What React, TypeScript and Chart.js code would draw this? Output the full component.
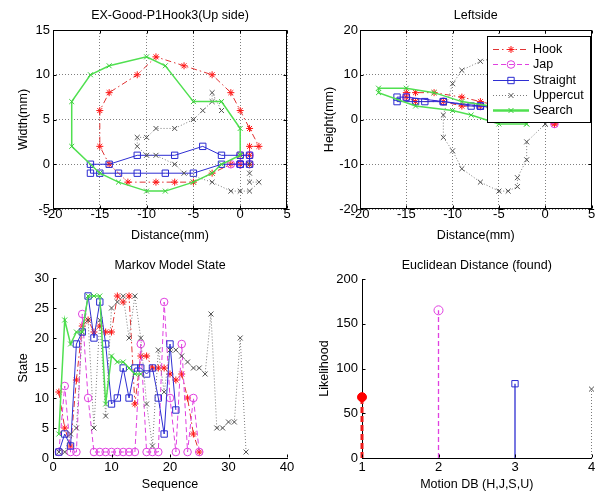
import React, { useEffect, useRef } from "react";
import { Chart, registerables } from "chart.js";
Chart.register(...registerables);

const FONT_FAMILY = "'Liberation Sans', Arial, Helvetica, sans-serif";
const FS = 12.5;
const TFS = 13;

// ---------- Data: Up side (Distance vs Width) ----------
const hookUpX = [1, 0, -1, -3, -5, -7, -9, -12, -14, -15, -15, -14, -11, -9, -6, -3, -1, 0, 1, 2, 1, 1, 0];
const hookUpY = [0, 0, 0, -1, -2, -2, -2, -2, 0, 2, 6, 8, 10, 12, 11, 10, 8, 6, 4, 2, 2, 1, 1];
const japUpX = [0, -1, 0, 0, 1, 1, 0];
const japUpY = [0, 0, 0, 1, 1, 0, 0];
const straightUpX = [0, -2, -5, -8, -11, -13, -15, -16, -16, -14, -11, -7, -4, -2, 0, 1, 1, 0];
const straightUpY = [0, 0, -1, -1, -1, -1, -1, -1, 0, 0, 1, 1, 2, 1, 1, 1, 0, 0];
const upperUpX = [1, 1, 1, 2, 1, 0, -1, -3, -6, -7, -9, -10, -11, -11, -10, -9, -7, -5, -4, -3, -3, -2];
const upperUpY = [0, -1, -2, -2, -3, -3, -3, -2, -1, 0, 1, 1, 2, 3, 3, 4, 4, 5, 6, 7, 8, 6];
const searchUpX = [0, 0, -2, -5, -8, -10, -14, -16, -18, -18, -15, -13, -10, -8, -5, -3, -2, 0];
const searchUpY = [1, 4, 7, 7, 11, 12, 11, 10, 7, 2, -1, -2, -3, -3, -2, -1, 0, 1];

// ---------- Data: Left side (Distance vs Height) ----------
const hookLeftX = [1, -1, -3, -5, -7, -9, -12, -14, -15, -15, -14, -11, -9, -7, -4, -1, 1];
const hookLeftY = [-1, 1, 2, 3, 4, 5, 6, 6, 6, 5, 4, 4, 3, 3, 2, 0, -1];
const japLeftX = [1, -3, -7, -11, -15];
const japLeftY = [-1, 2, 3, 4, 5];
const straightLeftX = [0, -2, -4, -7, -8, -11, -13, -14, -16, -16, -15, -11, -7, -3, 0];
const straightLeftY = [1, 2, 3, 3, 3, 4, 4, 4, 4, 5, 5, 4, 3, 2, 1];
const upperLeftX = [0, -2, -2, -3, -3, -4, -5, -7, -9, -10, -11, -11, -10, -9, -7, -5, -3, -1, 0, 0];
const upperLeftY = [-1, -5, -9, -13, -15, -16, -16, -14, -11, -7, -4, 1, 8, 11, 13, 14, 12, 7, 3, -1];
const searchLeftX = [-2, -5, -8, -10, -14, -18, -18, -15, -12, -9, -6, -3, -2];
const searchLeftY = [-1, -1, 1, 2, 3, 6, 7, 7, 6, 4, 3, 1, -1];

// ---------- Data: Markov model state sequences ----------
const hookSeq = [11, 5, 2, 13, 22, 23, 21, 22, 21, 21, 27, 26, 27, 9, 17, 17, 15, 15, 15, 14, 13, 14, 10, 4, 1];
const japSeq = [1, 12, 1, 1, 24, 10, 1, 1, 1, 1, 1, 1, 1, 1, 19, 1, 1, 1, 26, 10, 1, 19, 1, 10, 1];
const straightSeq = [1, 4, 2, 19, 21, 27, 20, 26, 19, 9, 10, 15, 10, 15, 15, 14, 15, 10, 4, 19, 8];
const upperSeq = [1, 1, 4, 5, 21, 23, 5, 23, 7, 25, 26, 27, 20, 27, 20, 9, 2, 18, 11, 18, 18, 17, 16, 15, 15, 14, 24, 5, 5, 6, 6, 20, 1];
const searchSeq = [4, 23, 19, 21, 21, 27, 27, 27, 9, 17, 16, 16, 15, 14, 14];

// ---------- Data: Euclidean distance stems ----------
const motionDB = [1, 2, 3, 4];
const likelihood = [68, 165, 83, 77];

const legendLabels = ["Hook", "Jap", "Straight", "Uppercut", "Search"];

type Sty = { line: string; mark: string; dash: number[]; marker: string; r: number; w: number };
const S: Record<string, Sty> = {
  hook: { line: "#e03434", mark: "#ff1515", dash: [6, 3, 1.5, 3], marker: "star", r: 3.5, w: 1 },
  jap: { line: "#e040e0", mark: "#e040e0", dash: [5, 3], marker: "circle", r: 3.8, w: 1 },
  straight: { line: "#2e2ed2", mark: "#2a2ad0", dash: [], marker: "rect", r: 4.5, w: 1 },
  upper: { line: "#7a7a7a", mark: "#505050", dash: [1, 2], marker: "crossRot", r: 3.5, w: 1 },
  search: { line: "#50e050", mark: "#3ccf3c", dash: [], marker: "crossRot", r: 3.5, w: 1.5 },
};
const ORDER = ["hook", "jap", "straight", "upper", "search"];

function series(xs: number[], ys: number[], st: Sty) {
  return {
    data: xs.map((x, i) => ({ x, y: ys[i] })),
    showLine: true,
    borderColor: st.line,
    borderWidth: st.w,
    borderDash: st.dash,
    pointStyle: st.marker,
    pointRadius: st.r,
    pointHoverRadius: st.r,
    pointBorderColor: st.mark,
    pointBackgroundColor: "rgba(0,0,0,0)",
    pointBorderWidth: 1,
    tension: 0,
    fill: false,
    clip: false,
  };
}

function seqSeries(vals: number[], st: Sty) {
  return series(vals.map((_, i) => i + 1), vals, st);
}

function stem(x: number, y: number, st: Sty, w: number, r: number, fill: string) {
  return {
    data: [{ x, y: 0 }, { x, y }],
    showLine: true,
    borderColor: st.line,
    borderWidth: w,
    borderDash: st.dash,
    pointStyle: st.marker,
    pointRadius: [0, r],
    pointHoverRadius: [0, r],
    pointBorderColor: st.mark,
    pointBackgroundColor: fill,
    pointBorderWidth: 1,
    tension: 0,
    fill: false,
    clip: false,
  };
}

function drawMarker(ctx: CanvasRenderingContext2D, style: string, x: number, y: number, r: number, color: string) {
  ctx.save();
  ctx.setLineDash([]);
  ctx.strokeStyle = color;
  ctx.lineWidth = 1;
  ctx.beginPath();
  const d = r * Math.SQRT1_2;
  if (style === "circle") {
    ctx.arc(x, y, r, 0, Math.PI * 2);
  } else if (style === "rect") {
    ctx.rect(x - d, y - d, 2 * d, 2 * d);
  } else {
    ctx.moveTo(x - d, y - d); ctx.lineTo(x + d, y + d);
    ctx.moveTo(x - d, y + d); ctx.lineTo(x + d, y - d);
    if (style === "star") {
      ctx.moveTo(x - r, y); ctx.lineTo(x + r, y);
      ctx.moveTo(x, y - r); ctx.lineTo(x, y + r);
    }
  }
  ctx.stroke();
  ctx.restore();
}

type FrameOpts = { title: string; titleY: number; box: boolean; legend?: { left: number; top: number; right: number; bottom: number } };

function makeFrame(o: FrameOpts) {
  return {
    id: "mframe",
    afterDraw(chart: any) {
      const { ctx, chartArea: a } = chart;
      const xs = chart.scales.x;
      const ys = chart.scales.y;
      ctx.save();
      ctx.fillStyle = "#000";
      ctx.font = `${FS}px ${FONT_FAMILY}`;
      ctx.textAlign = "center";
      ctx.textBaseline = "middle";
      ctx.fillText(o.title, (a.left + a.right) / 2, o.titleY);

      ctx.strokeStyle = "#000";
      ctx.lineWidth = 1;
      ctx.setLineDash([]);
      const L = Math.round(a.left) + 0.5;
      const R = Math.round(a.right) - 0.5;
      const T = Math.round(a.top) + 0.5;
      const B = Math.round(a.bottom) - 0.5;
      if (o.box) ctx.strokeRect(L, T, R - L, B - T);
      const tl = 3;
      ctx.beginPath();
      xs.ticks.forEach((t: any) => {
        const p = Math.round(xs.getPixelForValue(t.value)) + 0.5;
        ctx.moveTo(p, B); ctx.lineTo(p, B - tl);
        if (o.box) { ctx.moveTo(p, T); ctx.lineTo(p, T + tl); }
      });
      ys.ticks.forEach((t: any) => {
        const p = Math.round(ys.getPixelForValue(t.value)) + 0.5;
        ctx.moveTo(L, p); ctx.lineTo(L + tl, p);
        if (o.box) { ctx.moveTo(R, p); ctx.lineTo(R - tl, p); }
      });
      ctx.stroke();

      if (o.legend) {
        const lg = o.legend;
        ctx.fillStyle = "#fff";
        ctx.fillRect(lg.left, lg.top, lg.right - lg.left, lg.bottom - lg.top);
        ctx.strokeStyle = "#000";
        ctx.strokeRect(lg.left + 0.5, lg.top + 0.5, lg.right - lg.left - 1, lg.bottom - lg.top - 1);
        const rowH = (lg.bottom - lg.top - 10) / ORDER.length;
        ctx.font = `${FS}px ${FONT_FAMILY}`;
        ORDER.forEach((k, i) => {
          const st = S[k];
          const y = Math.round(lg.top + 5 + rowH * (i + 0.5)) + 0.5;
          const x0 = lg.left + 6;
          const x1 = lg.left + 42;
          ctx.save();
          ctx.strokeStyle = st.line;
          ctx.lineWidth = k === "search" ? 2.5 : st.w;
          ctx.setLineDash(st.dash);
          ctx.beginPath();
          ctx.moveTo(x0, y); ctx.lineTo(x1, y);
          ctx.stroke();
          ctx.restore();
          drawMarker(ctx, st.marker, (x0 + x1) / 2, y, st.r, st.mark);
          ctx.fillStyle = "#000";
          ctx.textAlign = "left";
          ctx.textBaseline = "middle";
          ctx.fillText(legendLabels[i], lg.left + 46, y);
        });
      }
      ctx.restore();
    },
  };
}

type AxisOpts = { min: number; max: number; step: number; title: string; titlePad: number; tickPad: number; size: number; grid: boolean };

function xAxis(o: AxisOpts) {
  return {
    type: "linear",
    min: o.min,
    max: o.max,
    ticks: { stepSize: o.step, padding: o.tickPad, color: "#000", font: { family: FONT_FAMILY, size: TFS }, maxRotation: 0, autoSkip: false },
    grid: o.grid ? { display: true, color: "rgba(0,0,0,0.5)", drawTicks: false, lineWidth: 1 } : { display: false, drawTicks: false },
    border: o.grid ? { display: false, dash: [1, 2] } : { display: true, color: "#000", width: 1 },
    title: { display: true, text: o.title, color: "#000", font: { family: FONT_FAMILY, size: FS }, padding: { top: 0, bottom: o.titlePad } },
    afterFit: (s: any) => { s.height = o.size; s.paddingLeft = 0; s.paddingRight = 0; },
  };
}

function yAxis(o: AxisOpts) {
  return {
    type: "linear",
    min: o.min,
    max: o.max,
    ticks: { stepSize: o.step, padding: o.tickPad, color: "#000", font: { family: FONT_FAMILY, size: TFS }, autoSkip: false },
    grid: o.grid ? { display: true, color: "rgba(0,0,0,0.5)", drawTicks: false, lineWidth: 1 } : { display: false, drawTicks: false },
    border: o.grid ? { display: false, dash: [1, 2] } : { display: true, color: "#000", width: 1 },
    title: { display: true, text: o.title, color: "#000", font: { family: FONT_FAMILY, size: FS }, padding: { top: o.titlePad, bottom: 0 } },
    afterFit: (s: any) => { s.width = o.size; s.paddingTop = 0; s.paddingBottom = 0; },
  };
}

function cfg(datasets: any[], x: any, y: any, pad: any, frame: FrameOpts): any {
  return {
    type: "scatter",
    data: { datasets },
    options: {
      responsive: false,
      maintainAspectRatio: false,
      animation: false,
      events: [],
      layout: { padding: pad },
      plugins: { legend: { display: false }, tooltip: { enabled: false }, title: { display: false } },
      scales: { x, y },
    },
    plugins: [makeFrame(frame)],
  };
}

export default function App() {
  const r1 = useRef<HTMLCanvasElement>(null);
  const r2 = useRef<HTMLCanvasElement>(null);
  const r3 = useRef<HTMLCanvasElement>(null);
  const r4 = useRef<HTMLCanvasElement>(null);

  useEffect(() => {
    const c1 = new Chart(
      r1.current!,
      cfg(
        [
          series(searchUpX, searchUpY, S.search),
          series(upperUpX, upperUpY, S.upper),
          series(straightUpX, straightUpY, S.straight),
          series(japUpX, japUpY, S.jap),
          series(hookUpX, hookUpY, S.hook),
        ],
        xAxis({ min: -20, max: 5, step: 5, title: "Distance(mm)", titlePad: 1.5, tickPad: -2, size: 36, grid: true }),
        yAxis({ min: -5, max: 15, step: 5, title: "Width(mm)", titlePad: 16.5, tickPad: 3, size: 53, grid: true }),
        { left: 0, top: 30, right: 11, bottom: 0 },
        { title: "EX-Good-P1Hook3(Up side)", titleY: 16, box: true }
      )
    );
    const c2 = new Chart(
      r2.current!,
      cfg(
        [
          series(searchLeftX, searchLeftY, S.search),
          series(upperLeftX, upperLeftY, S.upper),
          series(straightLeftX, straightLeftY, S.straight),
          series(japLeftX, japLeftY, S.jap),
          series(hookLeftX, hookLeftY, S.hook),
        ],
        xAxis({ min: -20, max: 5, step: 5, title: "Distance(mm)", titlePad: 1.5, tickPad: -2, size: 36, grid: true }),
        yAxis({ min: -20, max: 20, step: 10, title: "Height(mm)", titlePad: 25.5, tickPad: 2, size: 63, grid: true }),
        { left: 0, top: 30, right: 2, bottom: 0 },
        { title: "Leftside", titleY: 16, box: true, legend: { left: 190, top: 36, right: 294, bottom: 123 } }
      )
    );
    const c3 = new Chart(
      r3.current!,
      cfg(
        [
          seqSeries(searchSeq, S.search),
          seqSeries(upperSeq, S.upper),
          seqSeries(straightSeq, S.straight),
          seqSeries(japSeq, S.jap),
          seqSeries(hookSeq, S.hook),
        ],
        xAxis({ min: 0, max: 40, step: 10, title: "Sequence", titlePad: 0, tickPad: 1.5, size: 34, grid: false }),
        yAxis({ min: 0, max: 30, step: 5, title: "State", titlePad: 16.5, tickPad: 4, size: 53, grid: false }),
        { left: 0, top: 33, right: 11, bottom: 0 },
        { title: "Markov Model State", titleY: 21, box: false }
      )
    );
    const c4 = new Chart(
      r4.current!,
      cfg(
        [
          stem(motionDB[3], likelihood[3], S.upper, 1, 3.5, "rgba(0,0,0,0)"),
          stem(motionDB[2], likelihood[2], S.straight, 1.3, 4.5, "rgba(0,0,0,0)"),
          stem(motionDB[1], likelihood[1], S.jap, 1.3, 4.5, "rgba(0,0,0,0)"),
          stem(motionDB[0], likelihood[0], { ...S.hook, marker: "circle", mark: "#ff0000", line: "#ee1c1c", dash: [6, 3] }, 3, 4.5, "#ff0000"),
        ],
        xAxis({ min: 1, max: 4, step: 1, title: "Motion DB (H,J,S,U)", titlePad: 0, tickPad: 1.2, size: 34, grid: false }),
        yAxis({ min: 0, max: 200, step: 50, title: "Likelihood", titlePad: 20.5, tickPad: 4, size: 65, grid: false }),
        { left: 0, top: 34, right: 2, bottom: 0 },
        { title: "Euclidean Distance (found)", titleY: 21, box: false }
      )
    );
    return () => {
      c1.destroy();
      c2.destroy();
      c3.destroy();
      c4.destroy();
    };
  }, []);

  const cs = (l: number, t: number, w: number, h: number): React.CSSProperties => ({
    position: "absolute",
    left: l,
    top: t,
    width: w,
    height: h,
  });

  return (
    <div style={{ position: "fixed", left: 0, top: 0, width: 597, height: 492, background: "#fff", overflow: "hidden" }}>
      <canvas ref={r1} width={298} height={245} style={cs(0, 0, 298, 245)} />
      <canvas ref={r2} width={300} height={245} style={cs(297, 0, 300, 245)} />
      <canvas ref={r3} width={298} height={247} style={cs(0, 245, 298, 247)} />
      <canvas ref={r4} width={300} height={247} style={cs(297, 245, 300, 247)} />
    </div>
  );
}
